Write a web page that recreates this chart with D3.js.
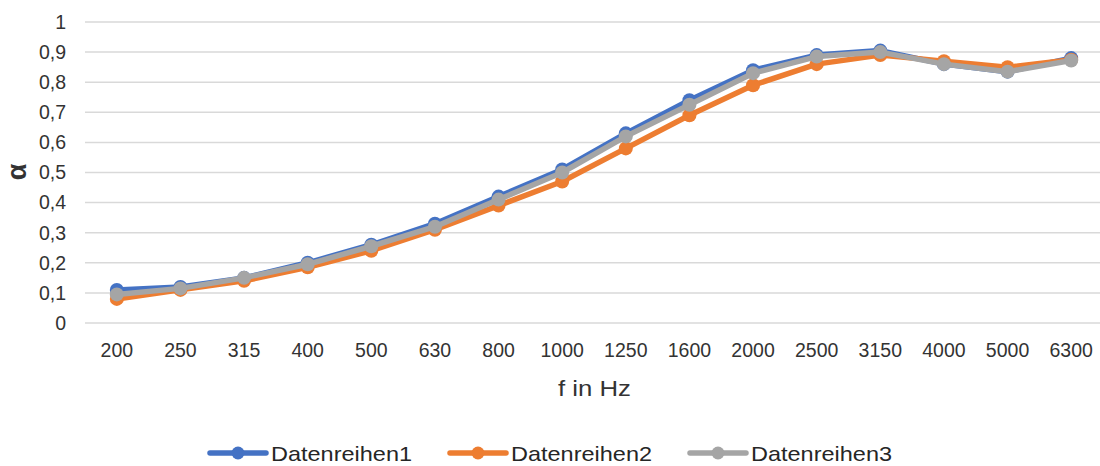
<!DOCTYPE html>
<html>
<head>
<meta charset="utf-8">
<script src="https://cdn.jsdelivr.net/npm/d3@7"></script>
<style>
  html, body { margin: 0; padding: 0; background: #fff; }
  svg { display: block; font-family: "Liberation Sans", Arial, sans-serif; }
</style>
</head>
<body>
<svg id="chart" width="1100" height="466"></svg>
<script>
const categories = ["200","250","315","400","500","630","800","1000","1250","1600","2000","2500","3150","4000","5000","6300"];
const series1 = [0.11, 0.12, 0.15, 0.20, 0.26, 0.33, 0.42, 0.51, 0.63, 0.74, 0.84, 0.89, 0.905, 0.86, 0.835, 0.88];
const series2 = [0.08, 0.11, 0.14, 0.185, 0.24, 0.31, 0.39, 0.47, 0.58, 0.69, 0.79, 0.86, 0.89, 0.87, 0.85, 0.875];
const series3 = [0.095, 0.115, 0.15, 0.195, 0.255, 0.32, 0.41, 0.50, 0.62, 0.725, 0.83, 0.885, 0.90, 0.86, 0.835, 0.872];
const seriesNames = ["Datenreihen1", "Datenreihen2", "Datenreihen3"];
const seriesColors = ["#4472C4", "#ED7D31", "#A5A5A5"];
const yTicks = [0, 0.1, 0.2, 0.3, 0.4, 0.5, 0.6, 0.7, 0.8, 0.9, 1];
const xTitle = "f in Hz";
const yTitle = "α";

const svg = d3.select("#chart");
const x = d3.scalePoint().domain(categories).range([85, 1103]).padding(0.5);
const y = d3.scaleLinear().domain([0, 1]).range([323, 22]);
const textColor = "#333333";

// gridlines
svg.append("g").selectAll("line").data(yTicks).join("line")
  .attr("x1", 85).attr("x2", 1100)
  .attr("y1", d => y(d)).attr("y2", d => y(d))
  .attr("stroke", "#d9d9d9").attr("stroke-width", 1.5);

// y axis labels
const fmt = d => d === 0 ? "0" : d === 1 ? "1" : String(d.toFixed(1)).replace(".", ",");
svg.append("g").selectAll("text").data(yTicks).join("text")
  .attr("x", 66).attr("y", d => y(d) + 6.8)
  .attr("text-anchor", "end")
  .attr("font-size", 19.5).attr("fill", textColor)
  .text(fmt);

// x axis labels
svg.append("g").selectAll("text").data(categories).join("text")
  .attr("x", d => x(d)).attr("y", 357)
  .attr("text-anchor", "middle")
  .attr("font-size", 19.5).attr("fill", textColor)
  .text(d => d);

// axis titles
svg.append("text")
  .attr("x", 594.5).attr("y", 396)
  .attr("text-anchor", "middle")
  .attr("font-size", 22).attr("fill", textColor)
  .attr("textLength", 73).attr("lengthAdjust", "spacingAndGlyphs")
  .text(xTitle);

svg.append("text")
  .attr("transform", "translate(26,172) rotate(-90)")
  .attr("text-anchor", "middle")
  .attr("font-size", 27).attr("font-weight", "bold").attr("fill", textColor)
  .text(yTitle);

// series
const allSeries = [series1, series2, series3];
const line = d3.line().x((d, i) => x(categories[i])).y(d => y(d));
allSeries.forEach((vals, si) => {
  const g = svg.append("g");
  g.append("path").datum(vals)
    .attr("d", line)
    .attr("fill", "none")
    .attr("stroke", seriesColors[si])
    .attr("stroke-width", 5.5)
    .attr("stroke-linejoin", "round");
  g.selectAll("circle").data(vals).join("circle")
    .attr("cx", (d, i) => x(categories[i]))
    .attr("cy", d => y(d))
    .attr("r", 7)
    .attr("fill", seriesColors[si]);
});

// legend
const legendX = [210, 450, 690];
const legend = svg.append("g");
seriesNames.forEach((name, i) => {
  const lx = legendX[i];
  legend.append("line")
    .attr("x1", lx).attr("x2", lx + 56)
    .attr("y1", 453).attr("y2", 453)
    .attr("stroke", seriesColors[i]).attr("stroke-width", 5.5)
    .attr("stroke-linecap", "round");
  legend.append("circle")
    .attr("cx", lx + 28).attr("cy", 453).attr("r", 6.5)
    .attr("fill", seriesColors[i]);
  legend.append("text")
    .attr("x", lx + 61).attr("y", 460.5)
    .attr("font-size", 21).attr("fill", "#262626")
    .attr("textLength", 141).attr("lengthAdjust", "spacingAndGlyphs")
    .text(name);
});
</script>
</body>
</html>
